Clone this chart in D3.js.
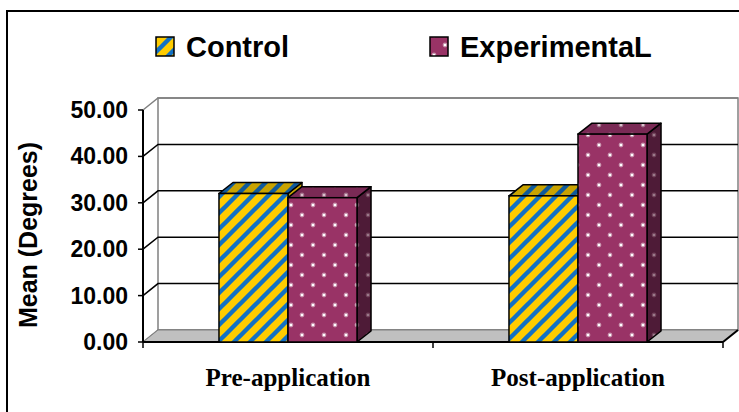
<!DOCTYPE html>
<html>
<head>
<meta charset="utf-8">
<script src="https://cdn.jsdelivr.net/npm/d3@7"></script>
<style>
  html, body { margin: 0; padding: 0; background: #fff; }
  svg { display: block; }
</style>
</head>
<body>
<svg id="chart" width="739" height="412"></svg>
<script>
const categories = ['Pre-application', 'Post-application'];
const seriesNames = ['Control', 'ExperimentaL'];
const controlValues = [32.0, 31.5];
const experimentalValues = [31.1, 44.8];
const yTicks = [0, 10, 20, 30, 40, 50];

const svg = d3.select('#chart');
const W = 739, H = 412;

const x0 = 143, x1 = 723;       // front floor edge
const wallDx = 15, wallDy = -12; // depth of the wall
const barDx = 14, barDy = -11;   // depth of each bar

const x = d3.scaleBand().domain(categories).range([x0, x1])
  .paddingInner(0.524).paddingOuter(0.262);
const xs = d3.scaleBand().domain(seriesNames).range([0, x.bandwidth()]);
const y = d3.scaleLinear().domain([0, 50]).range([342, 110]);

const defs = svg.append('defs');

function stripePattern(id, bg, fg) {
  const p = defs.append('pattern').attr('id', id)
    .attr('patternUnits', 'userSpaceOnUse').attr('width', 16).attr('height', 16);
  p.append('rect').attr('width', 16).attr('height', 16).attr('fill', bg);
  p.append('path')
    .attr('d', 'M-2,18 L18,-2 M-10,10 L10,-10 M6,26 L26,6')
    .attr('stroke', fg).attr('stroke-width', 4.4);
}
stripePattern('stripes', '#ffcc00', '#1271c4');
stripePattern('stripesTop', '#c9a300', '#0f5a9c');

function dotPattern(id, bg, halo, dot) {
  const p = defs.append('pattern').attr('id', id)
    .attr('patternUnits', 'userSpaceOnUse').attr('width', 22).attr('height', 20);
  p.append('rect').attr('width', 22).attr('height', 20).attr('fill', bg);
  [[5, 5], [16, 15]].forEach(([cx, cy]) => {
    p.append('circle').attr('cx', cx).attr('cy', cy).attr('r', 2.4).attr('fill', halo);
    p.append('circle').attr('cx', cx).attr('cy', cy).attr('r', 1.3).attr('fill', dot);
  });
}
dotPattern('dots', '#993366', '#c58aa7', '#ffffff');
dotPattern('dotsTop', '#7a2a55', '#a06a86', '#d9c0cc');
dotPattern('dotsSide', '#4e1b37', '#6e3d56', '#9a7a8a');

// outer border
svg.append('rect')
  .attr('x', 7).attr('y', 11).attr('width', W).attr('height', H)
  .attr('fill', 'none').attr('stroke', '#000').attr('stroke-width', 2);

// back wall
const wallTop = y(50) + wallDy, wallBottom = y(0) + wallDy;
svg.append('rect')
  .attr('x', x0 + wallDx).attr('y', wallTop)
  .attr('width', x1 - x0).attr('height', wallBottom - wallTop)
  .attr('fill', '#fff').attr('stroke', '#808080').attr('stroke-width', 1.5);

// gridlines: left wall diagonal + back wall horizontal
yTicks.forEach(v => {
  const isEdge = v === 0 || v === 50;
  const col = isEdge ? '#808080' : '#000';
  svg.append('path')
    .attr('d', `M${x0},${y(v)} L${x0 + wallDx},${y(v) + wallDy} L${x1 + wallDx},${y(v) + wallDy}`)
    .attr('fill', 'none').attr('stroke', col).attr('stroke-width', 1.5);
});

// floor
svg.append('path')
  .attr('d', `M${x0},${y(0)} L${x1},${y(0)} L${x1 + wallDx},${y(0) + wallDy} L${x0 + wallDx},${y(0) + wallDy} Z`)
  .attr('fill', '#c0c0c0').attr('stroke', '#808080').attr('stroke-width', 1);

// axes
svg.append('line').attr('x1', x0).attr('x2', x1).attr('y1', y(0)).attr('y2', y(0))
  .attr('stroke', '#000').attr('stroke-width', 2);
svg.append('path')
  .attr('d', `M${x1},${y(0)} L${x1 + wallDx},${y(0) + wallDy}`)
  .attr('stroke', '#000').attr('stroke-width', 2);
svg.append('line').attr('x1', x0).attr('x2', x0).attr('y1', y(0)).attr('y2', y(50))
  .attr('stroke', '#000').attr('stroke-width', 2);

yTicks.forEach(v => {
  svg.append('line').attr('x1', x0 - 5).attr('x2', x0).attr('y1', y(v)).attr('y2', y(v))
    .attr('stroke', '#000').attr('stroke-width', 1.5);
  svg.append('text')
    .attr('x', 128).attr('y', y(v) + 8)
    .attr('text-anchor', 'end')
    .attr('font-family', 'Liberation Sans, Arial, sans-serif')
    .attr('font-weight', 'bold').attr('font-size', 23)
    .text(d3.format('.2f')(v));
});

const xTickPos = [x0].concat(categories.map(c => x(c) + x.bandwidth() + x.step() * x.paddingInner() / 2));
xTickPos.forEach(p => {
  svg.append('line').attr('x1', p).attr('x2', p).attr('y1', y(0)).attr('y2', y(0) + 6)
    .attr('stroke', '#000').attr('stroke-width', 1.5);
});

// bars
const barData = [];
categories.forEach((c, i) => {
  barData.push({ cat: c, s: seriesNames[0], v: controlValues[i], front: 'url(#stripes)', top: 'url(#stripesTop)', side: 'url(#stripesTop)' });
  barData.push({ cat: c, s: seriesNames[1], v: experimentalValues[i], front: 'url(#dots)', top: 'url(#dotsTop)', side: 'url(#dotsSide)' });
});

barData.forEach(d => {
  const bx = x(d.cat) + xs(d.s);
  const bw = xs.bandwidth();
  const by = y(d.v), b0 = y(0);
  const g = svg.append('g');
  g.append('path')
    .attr('d', `M${bx + bw},${b0} L${bx + bw + barDx},${b0 + barDy} L${bx + bw + barDx},${by + barDy} L${bx + bw},${by} Z`)
    .attr('fill', d.side).attr('stroke', '#000').attr('stroke-width', 1.5).attr('stroke-linejoin', 'round');
  g.append('path')
    .attr('d', `M${bx},${by} L${bx + barDx},${by + barDy} L${bx + bw + barDx},${by + barDy} L${bx + bw},${by} Z`)
    .attr('fill', d.top).attr('stroke', '#000').attr('stroke-width', 1.5).attr('stroke-linejoin', 'round');
  g.append('rect')
    .attr('x', bx).attr('y', by).attr('width', bw).attr('height', b0 - by)
    .attr('fill', d.front).attr('stroke', '#000').attr('stroke-width', 1.5);
});

// category labels
categories.forEach((c, i) => {
  svg.append('text')
    .attr('x', x(c) + x.bandwidth() / 2).attr('y', 386)
    .attr('text-anchor', 'middle')
    .attr('font-family', 'Liberation Serif, Times New Roman, serif')
    .attr('font-weight', 'bold').attr('font-size', 26)
    .attr('textLength', i === 0 ? 165 : 174).attr('lengthAdjust', 'spacingAndGlyphs')
    .text(c);
});

// y title
svg.append('text')
  .attr('transform', 'translate(37,235) rotate(-90)')
  .attr('text-anchor', 'middle')
  .attr('font-family', 'Liberation Sans, Arial, sans-serif')
  .attr('font-weight', 'bold').attr('font-size', 25)
  .text('Mean (Degrees)');

// legend
const legendX = [156, 430];
const legendFill = ['url(#stripes)', 'url(#dots)'];
seriesNames.forEach((s, i) => {
  svg.append('rect')
    .attr('x', legendX[i]).attr('y', 37).attr('width', 18).attr('height', 19)
    .attr('fill', legendFill[i]).attr('stroke', '#000').attr('stroke-width', 1.5);
  svg.append('text')
    .attr('x', legendX[i] + 30).attr('y', 57)
    .attr('font-family', 'Liberation Sans, Arial, sans-serif')
    .attr('font-weight', 'bold').attr('font-size', 29)
    .text(s);
});
</script>
</body>
</html>
